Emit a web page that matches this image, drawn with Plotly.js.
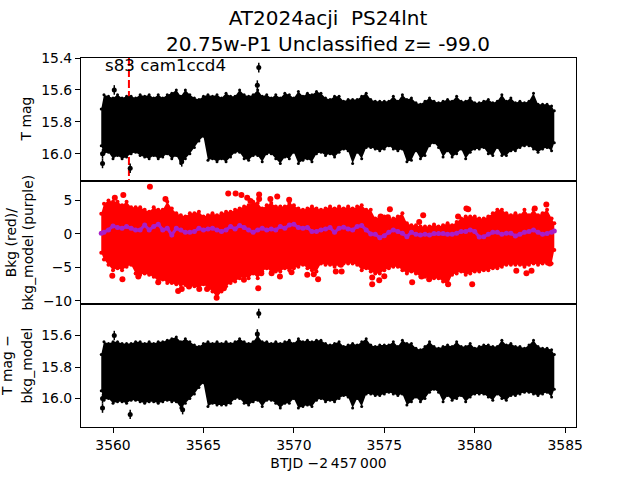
<!DOCTYPE html>
<html><head><meta charset="utf-8">
<script src="https://cdn.plot.ly/plotly-3.0.1.min.js"></script>
<style>html,body{margin:0;padding:0;background:#fff}</style></head>
<body><div id="chart" style="width:640px;height:480px"></div>
<script>
const times=[3559.35,3559.5,3559.75,3560,3560.25,3560.5,3560.75,3561,3561.25,3561.5,3561.75,3562,3562.25,3562.5,3562.75,3563,3563.25,3563.5,3563.75,3564,3564.25,3564.5,3564.75,3565,3565.25,3565.5,3565.75,3566,3566.25,3566.5,3566.75,3567,3567.25,3567.5,3567.75,3568,3568.25,3568.5,3568.75,3569,3569.25,3569.5,3569.75,3570,3570.25,3570.5,3570.75,3571,3571.25,3571.5,3571.75,3572,3572.25,3572.5,3572.75,3573,3573.25,3573.5,3573.75,3574,3574.25,3574.5,3574.75,3575,3575.25,3575.5,3575.75,3576,3576.25,3576.5,3576.75,3577,3577.25,3577.5,3577.75,3578,3578.25,3578.5,3578.75,3579,3579.25,3579.5,3579.75,3580,3580.25,3580.5,3580.75,3581,3581.25,3581.5,3581.75,3582,3582.25,3582.5,3582.75,3583,3583.25,3583.5,3583.75,3584,3584.25,3584.4];
const magUpper=[15.72,15.63,15.64,15.65,15.63,15.65,15.64,15.64,15.65,15.63,15.64,15.63,15.65,15.63,15.65,15.63,15.62,15.60,15.64,15.60,15.63,15.65,15.66,15.64,15.63,15.64,15.63,15.65,15.62,15.64,15.64,15.60,15.63,15.64,15.63,15.60,15.64,15.63,15.65,15.63,15.65,15.62,15.63,15.65,15.61,15.64,15.62,15.63,15.61,15.62,15.65,15.66,15.64,15.64,15.67,15.66,15.66,15.66,15.64,15.62,15.66,15.67,15.67,15.67,15.67,15.64,15.67,15.63,15.66,15.65,15.68,15.69,15.67,15.65,15.67,15.68,15.67,15.66,15.67,15.64,15.67,15.67,15.65,15.68,15.68,15.67,15.66,15.68,15.67,15.63,15.67,15.65,15.68,15.67,15.68,15.67,15.62,15.69,15.69,15.69,15.70,15.73];
const magLower=[15.95,16.00,15.99,16.03,16.01,16.03,16.02,16.00,15.99,16.01,16.02,16.03,16.01,16.03,16.02,16.00,16.03,16.01,16.06,16.03,16.00,15.96,15.92,15.89,16.04,16.03,16.05,16.03,16.05,16.02,15.99,15.99,16.03,16.04,16.01,16.01,16.05,16.00,16.00,16.03,16.06,16.02,16.03,15.99,16.06,16.04,16.03,16.05,16.00,15.99,16.01,16.00,16.02,15.99,15.97,15.98,16.06,15.99,16.03,15.96,15.96,15.97,15.98,15.97,15.95,15.97,15.98,15.97,16.05,16.04,15.98,16.03,16.01,15.95,15.93,15.96,16.02,15.98,16.02,16.00,15.97,16.03,15.99,15.97,15.97,15.96,16.00,16.01,15.96,16.01,16.01,15.98,15.98,15.96,15.95,15.95,15.97,15.99,15.97,15.96,15.98,15.93];
const magOutT=[3560.07,3568.06,3567.98,3560.95,3559.42,3559.42,3563.8];
const magOutY=[15.60,15.46,15.57,16.09,16.06,16.00,16.05];
const bkgUpper=[3.0,4.5,5.0,4.8,4.8,4.3,4.8,4.0,4.0,4.0,3.6,3.3,4.0,3.6,3.6,4.8,3.8,3.1,2.8,2.6,3.1,3.1,3.3,2.6,2.8,3.1,2.8,3.1,3.3,3.3,3.6,3.8,4.1,4.3,4.8,4.6,3.8,4.3,4.6,4.1,4.1,4.1,4.6,4.3,3.8,3.6,3.8,4.1,3.8,3.6,3.8,4.1,3.8,4.1,3.8,4.1,3.8,4.1,4.3,3.6,3.6,2.3,2.6,2.6,2.3,2.3,2.6,3.1,1.6,1.3,1.3,1.1,1.1,1.1,1.4,1.1,1.3,1.6,1.3,1.8,2.3,2.6,2.6,2.6,2.3,2.3,2.6,3.1,3.6,3.6,3.1,2.8,3.1,2.8,3.6,2.8,3.6,2.8,3.1,3.6,2.3,1.6];
const bkgLower=[-2.8,-3.8,-4.6,-5.4,-5.1,-5.4,-4.9,-4.6,-5.9,-6.1,-5.9,-6.1,-6.4,-7.1,-6.8,-7.3,-7.3,-7.5,-7.6,-7.6,-7.8,-7.8,-8.1,-7.5,-8.1,-8.6,-9.5,-8.6,-7.8,-7.3,-7.1,-6.6,-6.4,-6.6,-5.9,-6.6,-5.6,-5.1,-5.6,-5.6,-5.6,-5.1,-5.4,-5.1,-4.9,-4.6,-5.1,-5.4,-5.6,-4.4,-4.6,-4.6,-4.9,-4.6,-4.4,-4.4,-4.4,-4.6,-5.4,-5.1,-5.6,-5.9,-5.9,-5.4,-5.1,-4.9,-4.9,-5.4,-5.9,-5.6,-5.9,-6.4,-6.4,-6.8,-6.6,-6.6,-7.1,-7.6,-6.1,-5.9,-5.6,-6.1,-5.9,-5.6,-5.6,-5.4,-5.4,-5.1,-5.1,-4.9,-4.6,-4.6,-4.6,-4.6,-4.9,-4.6,-4.4,-4.6,-4.4,-4.4,-4.4,-2.4];
const bkgOutT=[3562.04,3566.37,3566.78,3567.1,3568.08,3568.08,3569.08,3567.42,3567.6,3560.57,3560.1,3562.9,3568.7,3569.74,3575.31,3577.15,3579.54,3579.64,3583.96,3583.32,3576.93,3579.08,3574.8,3575.2,3574.33,3574.33,3574.72,3575,3576.54,3579.86,3578.53,3572.32,3572.64,3572.6,3577.48,3577.06,3582.3,3582.86,3583.14,3584.15,3559.96,3560.52,3561.4,3562.5,3563.6,3563.8,3564.2,3564.77,3565.2,3565.73,3566.13,3567.24,3568.03,3568.2,3568.77,3569.23,3569.87,3570.74,3571.1,3571.34];
const bkgOutY=[7.05,6.05,6.05,5.8,5.9,5.2,5.6,5.4,4.9,5.8,5.4,5.2,5.2,5.1,3.7,2.8,3.8,3.7,4.4,3.8,1.8,2.6,2.6,2.5,-7.5,-6.5,-6.9,-6.3,-7.2,-7.5,-7.5,-5.6,-5.6,-4.6,-6.75,-6.35,-5.5,-5.85,-5.5,-4.4,-6.25,-6.75,-6.35,-7.2,-8.5,-8.2,-7.85,-8.2,-8.2,-9.5,-8.1,-6.85,-8.1,-5.85,-5.85,-6.35,-5.7,-6.1,-6,-6.75];
const bkgModel=[0.1,0.25,0.6,1.2,0.95,0.85,1.1,0.85,0.6,0.6,1.35,0.6,1.1,1.45,0.6,0.85,-0.15,0.85,0.6,0.25,0.25,0.35,0.85,0.6,0.75,0.85,0.6,0.35,0.6,1.1,0.75,1.25,0.95,0.6,0.25,0.6,0.85,0.6,0.75,0.6,1.1,0.85,1.35,1.45,0.95,0.85,0.95,0.35,0.35,0.6,0.75,0.95,0.25,0.85,1.0,0.75,0.6,1.1,1.25,0.6,0,-0.05,-0.55,-0.25,0.25,0.6,0.35,0.1,-0.4,0.25,-0.05,-0.15,-0.05,-0.15,0.05,0.05,0.05,-0.05,-0.05,0.1,0.35,0.35,0.6,0.35,-0.45,-0.4,-0.05,0.25,0.25,-0.05,0.1,0.1,-0.3,-0.05,0.25,0.35,0.6,0.25,-0.05,0.05,0.25,0.45];
const corrUpper=[15.72,15.64,15.65,15.64,15.64,15.65,15.65,15.65,15.64,15.64,15.65,15.64,15.65,15.64,15.64,15.63,15.62,15.61,15.64,15.62,15.64,15.66,15.67,15.65,15.64,15.65,15.64,15.65,15.64,15.65,15.64,15.62,15.64,15.65,15.64,15.60,15.64,15.64,15.65,15.64,15.65,15.64,15.63,15.65,15.62,15.64,15.63,15.64,15.63,15.63,15.65,15.66,15.65,15.64,15.67,15.66,15.65,15.66,15.64,15.62,15.66,15.67,15.66,15.66,15.66,15.64,15.67,15.63,15.65,15.65,15.68,15.69,15.67,15.64,15.67,15.68,15.67,15.66,15.67,15.64,15.67,15.67,15.65,15.68,15.67,15.66,15.66,15.67,15.67,15.63,15.66,15.65,15.67,15.67,15.68,15.66,15.63,15.67,15.68,15.68,15.69,15.72];
const corrLower=[15.95,16.01,16.00,16.03,16.02,16.02,16.03,16.01,16.01,16.02,16.03,16.02,16.02,16.03,16.02,16.01,16.02,16.02,16.06,16.03,16.00,15.97,15.93,15.90,16.05,16.03,16.04,16.04,16.04,16.03,16.00,16.00,16.03,16.04,16.02,16.01,16.05,16.01,16.01,16.03,16.06,16.03,16.03,16.00,16.06,16.05,16.04,16.05,16.01,16.00,16.02,16.01,16.02,16.00,15.98,15.99,16.06,16.00,16.05,15.97,15.97,15.98,15.98,15.97,15.96,15.97,15.98,15.97,16.04,16.02,15.99,16.02,16.00,15.96,15.94,15.96,16.02,15.98,16.01,16.00,15.98,16.02,15.99,15.97,15.97,15.97,15.99,16.01,15.97,16.00,16.01,15.98,15.98,15.97,15.96,15.96,15.97,15.98,15.97,15.96,15.99,15.94];
const corrOutT=[3560.07,3568.06,3567.98,3560.95,3559.42,3559.42,3563.85];
const corrOutY=[15.60,15.46,15.59,16.10,16.06,16.00,16.07];
const markerTime=[3560.88,3560.88];
const markerMag=[15.4,16.17];
const xTicks=[3560,3565,3570,3575,3580,3585];
const magTicks=[15.4,15.6,15.8,16.0];
const corrTicks=[15.6,15.8,16.0];
const bkgTicks=[5,0,-5,-10];
const FONT='"DejaVu Sans",sans-serif';

function band(xa,ya,low,high,col,size){
  const m={color:col,size:size};
  return [
   {x:times.concat(times.slice().reverse()),y:high.concat(low.slice().reverse()),xaxis:xa,yaxis:ya,mode:'lines',line:{color:col,width:0},fill:'toself',fillcolor:col,showlegend:false},
   {x:times,y:low,xaxis:xa,yaxis:ya,mode:'markers',marker:m,showlegend:false},
   {x:times,y:high,xaxis:xa,yaxis:ya,mode:'markers',marker:m,showlegend:false}
  ];
}
function pts(xa,ya,tx,ty,col,size,err){
  return {x:tx,y:ty,xaxis:xa,yaxis:ya,mode:'markers',marker:{color:col,size:size},
    error_y:err?{type:'constant',value:err,thickness:1.5,width:0,color:col}:{visible:false},showlegend:false};
}
const data=[
 {x:markerTime,y:markerMag,xaxis:'x',yaxis:'y',mode:'lines',line:{color:'#ff0000',width:2,dash:'8px,3px'},showlegend:false},
 ...band('x','y',magLower,magUpper,'#000000',3),
 pts('x','y',magOutT,magOutY,'#000000',5,0.03),
 ...band('x2','y2',bkgLower,bkgUpper,'#ff0000',4),
 pts('x2','y2',bkgOutT,bkgOutY,'#ff0000',6,0),
 {x:times,y:bkgModel,xaxis:'x2',yaxis:'y2',mode:'lines+markers',line:{color:'#a81ec8',width:3},marker:{color:'#a81ec8',size:5},showlegend:false},
 ...band('x3','y3',corrLower,corrUpper,'#000000',3),
 pts('x3','y3',corrOutT,corrOutY,'#000000',5,0.03)
];
const xr=[3558.23,3585.6];
const fs=13.9;
const axBase={showline:true,linecolor:'#000',linewidth:1,mirror:true,showgrid:false,zeroline:false,
  tickcolor:'#000',ticklen:5,tickwidth:1,ticks:'outside',tickfont:{family:FONT,size:fs,color:'#000'}};
const xHidden={...axBase,range:xr,ticks:'',showticklabels:false};
function yLabel(text,px,yc){
  return {text:text,xref:'paper',yref:'paper',x:(px-81)/495,y:yc,xanchor:'center',yanchor:'middle',textangle:-90,showarrow:false,font:{family:FONT,size:fs,color:'#000'}};
}
const layout={
 width:640,height:480,paper_bgcolor:'#fff',plot_bgcolor:'#fff',
 margin:{l:81,r:64,t:58,b:53,pad:0},showlegend:false,
 font:{family:FONT,color:'#000'},
 title:{text:'AT2024acji  PS24lnt<br>20.75w-P1 Unclassified z= -99.0',x:0.5125,xanchor:'center',y:0.947,yanchor:'top',font:{family:FONT,size:20,color:'#000'}},
 xaxis:{...xHidden,anchor:'y',domain:[0,1]},
 xaxis2:{...xHidden,anchor:'y2',domain:[0,1]},
 xaxis3:{...axBase,range:xr,anchor:'y3',domain:[0,1],tickvals:xTicks,ticktext:xTicks.map(String),
   title:{text:'BTJD \u22122\u2009457\u2009000',font:{family:FONT,size:fs,color:'#000'},standoff:6}},
 yaxis:{...axBase,domain:[2/3,1],range:[16.17,15.4],tickvals:magTicks,ticktext:magTicks.map(v=>v.toFixed(1))},
 yaxis2:{...axBase,domain:[1/3,2/3],range:[-10.45,7.9],tickvals:bkgTicks,ticktext:['5','0','\u22125','\u221210']},
 yaxis3:{...axBase,domain:[0,1/3],range:[16.18,15.4],tickvals:corrTicks,ticktext:corrTicks.map(v=>v.toFixed(1))},
 annotations:[
  {text:'s83 cam1ccd4',xref:'x',yref:'y',x:3559.45,y:15.445,xanchor:'left',yanchor:'middle',showarrow:false,font:{family:FONT,size:16.7,color:'#000'}},
  yLabel('T mag',26,0.8333),
  yLabel('Bkg (red)/',10.7,0.5),
  yLabel('bkg_model (purple)',27,0.5),
  yLabel('T mag \u2212',7.5,0.1667),
  yLabel('bkg_model',27,0.1667)
 ]
};
Plotly.newPlot('chart',data,layout,{displayModeBar:false,staticPlot:true});
</script></body></html>
